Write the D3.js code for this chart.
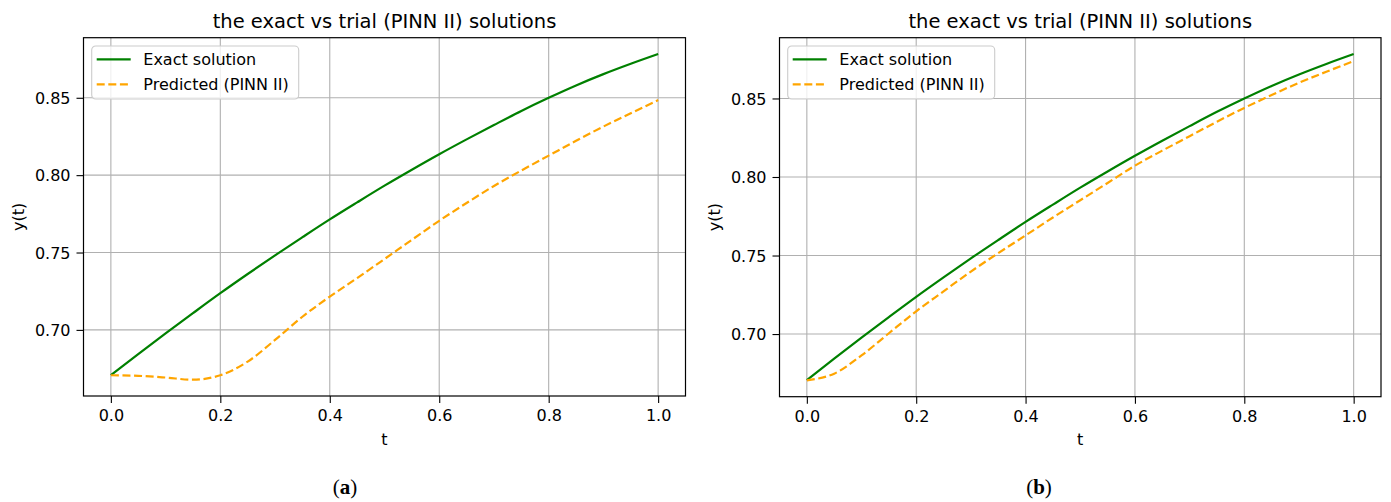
<!DOCTYPE html>
<html>
<head>
<meta charset="utf-8">
<script src="https://cdn.jsdelivr.net/npm/d3@7"></script>
<style>
  html, body { margin:0; padding:0; background:#fff; }
  svg text { font-family: "DejaVu Sans", sans-serif; fill:#000; }
</style>
</head>
<body>
<svg id="fig" width="1391" height="502"></svg>
<script>
// t values, every 0.05
const T = [0, 0.05, 0.1, 0.15, 0.2, 0.25, 0.3, 0.35, 0.4, 0.45, 0.5,
           0.55, 0.6, 0.65, 0.7, 0.75, 0.8, 0.85, 0.9, 0.95, 1.0];

const exactA = [0.6707, 0.6843, 0.6977, 0.7108, 0.7237, 0.7361, 0.7482, 0.7599, 0.7714, 0.7824, 0.7932,
                0.8035, 0.8135, 0.8231, 0.8324, 0.8415, 0.8500, 0.8580, 0.8653, 0.8720, 0.8783];
const predA  = [0.6707, 0.6703, 0.6692, 0.6678, 0.6707, 0.6795, 0.6935, 0.7085, 0.7215, 0.7335, 0.7458,
                0.7582, 0.7705, 0.7820, 0.7930, 0.8030, 0.8126, 0.8222, 0.8314, 0.8400, 0.8485];

const exactB = [0.6707, 0.6843, 0.6977, 0.7108, 0.7237, 0.7361, 0.7482, 0.7599, 0.7714, 0.7824, 0.7932,
                0.8035, 0.8135, 0.8231, 0.8324, 0.8415, 0.8500, 0.8580, 0.8653, 0.8720, 0.8783];
const predB  = [0.6705, 0.6748, 0.6864, 0.7005, 0.7145, 0.7272, 0.7398, 0.7515, 0.7628, 0.7742, 0.7852,
                0.7962, 0.8072, 0.8168, 0.8260, 0.8352, 0.8440, 0.8522, 0.8600, 0.8670, 0.8738];

const xTicks = [0, 0.2, 0.4, 0.6, 0.8, 1.0];
const yTicks = [0.70, 0.75, 0.80, 0.85];
const seriesNames = ['Exact solution', 'Predicted (PINN II)'];
const titleText = 'the exact vs trial (PINN II) solutions';
const captions = ['a', 'b'];

const panels = [
  { box:{ left:83.5, right:685.5, top:37.7, bottom:396 },   exact:exactA, pred:predA, cap:captions[0], capX:345 },
  { box:{ left:779.5, right:1381, top:37.7, bottom:396.7 }, exact:exactB, pred:predB, cap:captions[1], capX:1039 }
];

const svg = d3.select('#fig');
const GREEN = '#008000', ORANGE = '#ffa500';

panels.forEach(p => {
  const b = p.box;
  const g = svg.append('g');

  const x = d3.scaleLinear().domain([-0.05, 1.05]).range([b.left, b.right]);
  const all = p.exact.concat(p.pred);
  const [lo, hi] = d3.extent(all);
  const pad = (hi - lo) * 0.05;
  const y = d3.scaleLinear().domain([lo - pad, hi + pad]).range([b.bottom, b.top]);

  // grid
  g.append('g').selectAll('line').data(xTicks).join('line')
    .attr('x1', d=>x(d)).attr('x2', d=>x(d))
    .attr('y1', b.top).attr('y2', b.bottom)
    .attr('stroke', '#b0b0b0').attr('stroke-width', 1.1);
  g.append('g').selectAll('line').data(yTicks).join('line')
    .attr('y1', d=>y(d)).attr('y2', d=>y(d))
    .attr('x1', b.left).attr('x2', b.right)
    .attr('stroke', '#b0b0b0').attr('stroke-width', 1.1);

  // curves
  const line = vals => d3.line()
    .x((d,i)=>x(T[i])).y(d=>y(d))
    .curve(d3.curveMonotoneX)(vals);

  g.append('path').attr('d', line(p.exact))
    .attr('fill','none').attr('stroke',GREEN).attr('stroke-width',2.2);
  g.append('path').attr('d', line(p.pred))
    .attr('fill','none').attr('stroke',ORANGE).attr('stroke-width',2.2)
    .attr('stroke-dasharray','8,3.6');

  // axes
  const ax = g.append('g').attr('transform', `translate(0,${b.bottom})`)
    .call(d3.axisBottom(x).tickValues(xTicks).tickFormat(d3.format('.1f')).tickSize(7).tickPadding(7));
  const ay = g.append('g').attr('transform', `translate(${b.left},0)`)
    .call(d3.axisLeft(y).tickValues(yTicks).tickFormat(d3.format('.2f')).tickSize(7).tickPadding(6));
  [ax, ay].forEach(a => {
    a.select('.domain').remove();
    a.selectAll('.tick line').attr('stroke','#000').attr('stroke-width',1.1);
    a.selectAll('.tick text').attr('font-size',16).attr('font-family','DejaVu Sans').attr('fill','#000');
  });
  ax.selectAll('.tick text').attr('dy', null).attr('y', 25);
  ay.selectAll('.tick text').attr('dy', '0.36em');

  // frame
  g.append('rect').attr('x', b.left).attr('y', b.top)
    .attr('width', b.right - b.left).attr('height', b.bottom - b.top)
    .attr('fill','none').attr('stroke','#000').attr('stroke-width',1.2);

  // title and labels
  const cx = (b.left + b.right) / 2;
  g.append('text').attr('x', cx).attr('y', 27.5).attr('text-anchor','middle')
    .attr('font-size', 19.5).text(titleText);
  g.append('text').attr('x', cx).attr('y', 445).attr('text-anchor','middle')
    .attr('font-size', 16).text('t');
  g.append('text')
    .attr('transform', `translate(${b.left - 59.5},${(b.top + b.bottom)/2}) rotate(-90)`)
    .attr('text-anchor','middle').attr('font-size', 16).text('y(t)');

  // legend
  const lg = g.append('g').attr('transform', `translate(${b.left + 8.2},${b.top + 8.3})`);
  lg.append('rect').attr('width', 207).attr('height', 53).attr('rx', 4)
    .attr('fill','#fff').attr('fill-opacity',0.8)
    .attr('stroke','#cccccc').attr('stroke-width',1.1);
  const items = [{name:seriesNames[0], color:GREEN, dash:null},
                 {name:seriesNames[1], color:ORANGE, dash:'8,3.6'}];
  items.forEach((it, i) => {
    const yy = 13.3 + i * 25;
    lg.append('line').attr('x1', 5).attr('x2', 39).attr('y1', yy).attr('y2', yy)
      .attr('stroke', it.color).attr('stroke-width', 2.2)
      .attr('stroke-dasharray', it.dash);
    lg.append('text').attr('x', 51.6).attr('y', yy).attr('dy','0.36em')
      .attr('font-size', 16).text(it.name);
  });

  // caption
  const cap = svg.append('text').attr('x', p.capX).attr('y', 494).attr('text-anchor','middle')
    .attr('font-size', 21).style('font-family','"Liberation Serif", serif');
  cap.append('tspan').text('(');
  cap.append('tspan').attr('font-weight','bold').text(p.cap);
  cap.append('tspan').text(')');
});
</script>
</body>
</html>
